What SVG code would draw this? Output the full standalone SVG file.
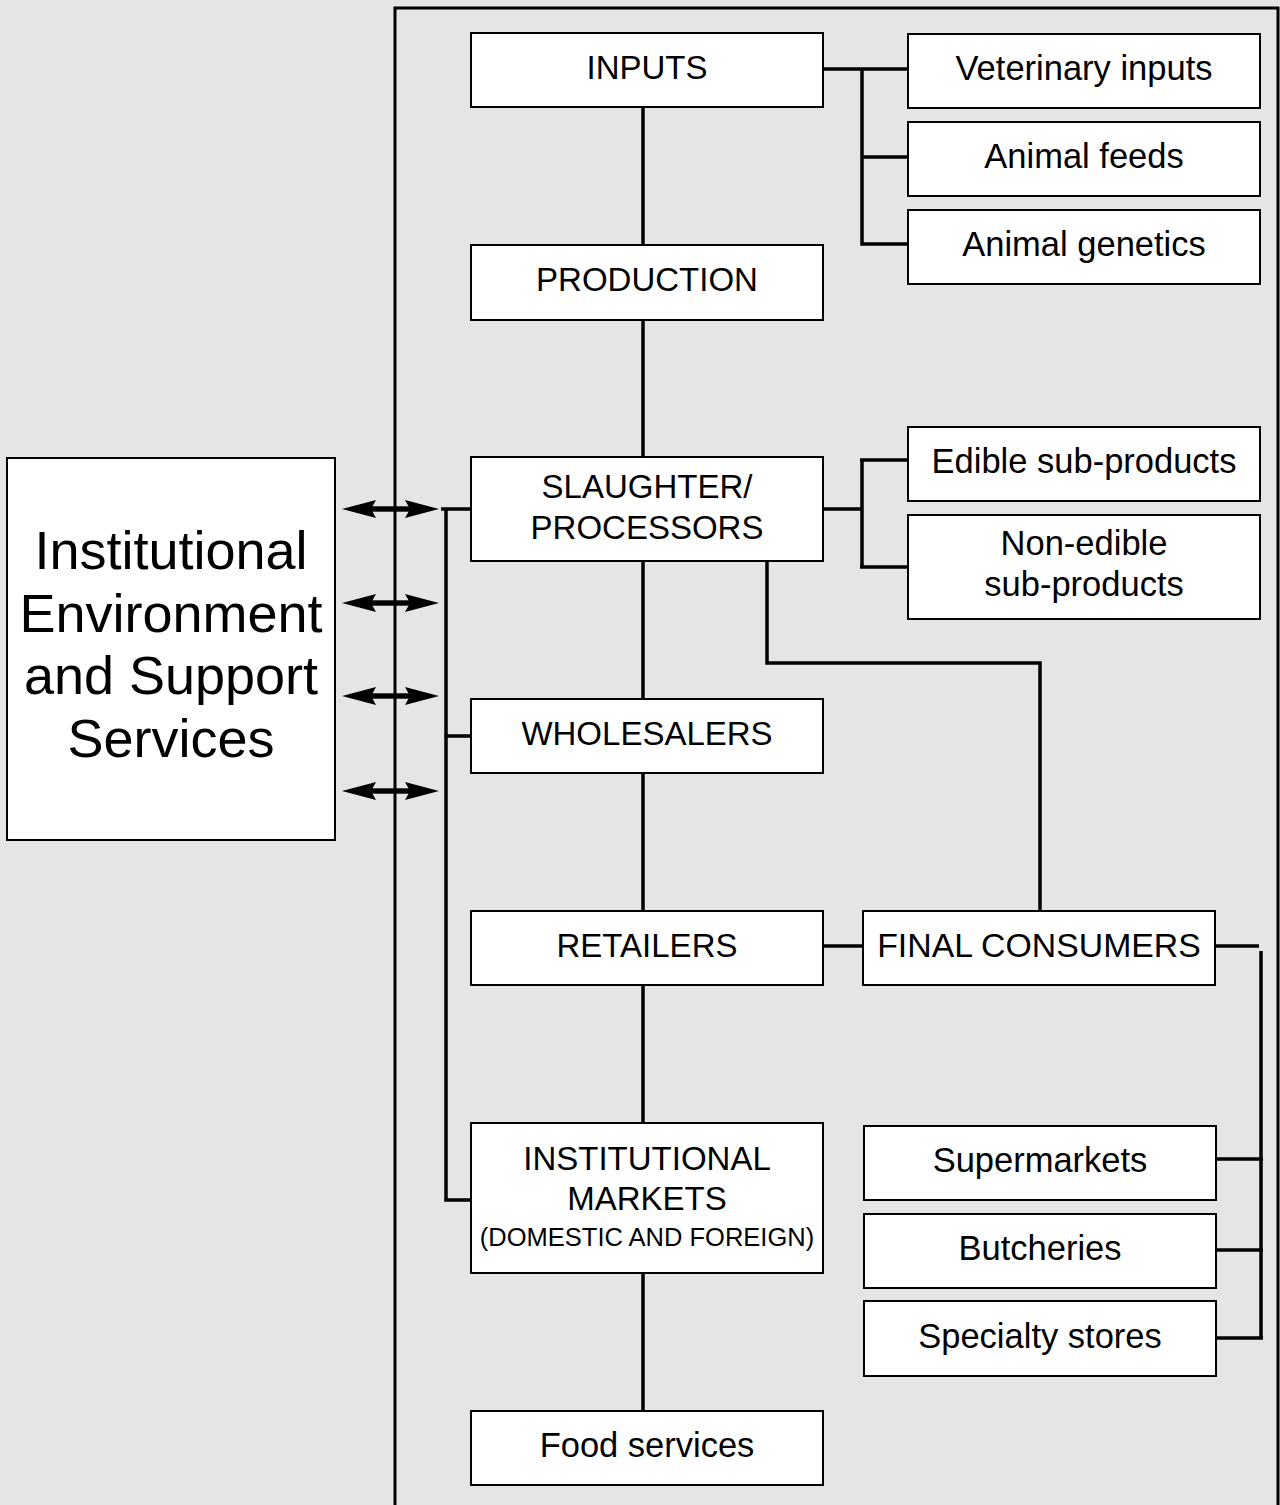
<svg xmlns="http://www.w3.org/2000/svg" width="1280" height="1505" viewBox="0 0 1280 1505">
<style>
.box{fill:#fff;stroke:#000;stroke-width:2}
.t{font-family:"Liberation Sans",Arial,sans-serif;font-size:33px;text-anchor:middle;fill:#000}
.l{font-size:34.5px}
.big{font-family:"Liberation Sans",Arial,sans-serif;font-size:54px;text-anchor:middle;fill:#000}
.sm{font-family:"Liberation Sans",Arial,sans-serif;font-size:25.5px;text-anchor:middle;fill:#000}
.c{fill:none;stroke:#000;stroke-width:3.5}
.ar{fill:#000}
</style>
<rect width="1280" height="1505" fill="#e5e5e5"/>
<rect x="395" y="8" width="883" height="1510" fill="none" stroke="#000" stroke-width="3"/>
<g id="connectors">
<path class="c" d="M643,107V245M643,320V457M643,561V699M643,773V911M643,985V1123M643,1273V1411"/>
<path class="c" d="M823,69H908M862,69V244H908M862,157H908"/>
<path class="c" d="M823,509H862M862,460V567M860,460H908M860,567H908"/>
<path class="c" d="M767,561V663H1040V911"/>
<path class="c" d="M823,946H863"/>
<path class="c" d="M1215,946H1259M1261,951V1338M1216,1159H1263M1216,1250H1263M1216,1338H1263"/>
<path class="c" d="M441,509H471M446,509V1200H471M446,736H471"/>
<g id="arrows">
<g transform="translate(0,509)"><rect x="360" y="-2.7" width="65" height="5.4"/><path class="ar" d="M342,0L376,-9L371,0L376,9Z"/><path class="ar" d="M439,0L405,-9L410,0L405,9Z"/></g>
<g transform="translate(0,603)"><rect x="360" y="-2.7" width="65" height="5.4"/><path class="ar" d="M342,0L376,-9L371,0L376,9Z"/><path class="ar" d="M439,0L405,-9L410,0L405,9Z"/></g>
<g transform="translate(0,696)"><rect x="360" y="-2.7" width="65" height="5.4"/><path class="ar" d="M342,0L376,-9L371,0L376,9Z"/><path class="ar" d="M439,0L405,-9L410,0L405,9Z"/></g>
<g transform="translate(0,791)"><rect x="360" y="-2.7" width="65" height="5.4"/><path class="ar" d="M342,0L376,-9L371,0L376,9Z"/><path class="ar" d="M439,0L405,-9L410,0L405,9Z"/></g>
</g>
</g>
<g id="institutional-env"><rect class="box" x="7" y="458" width="328" height="382"/>
<text class="big" x="171" y="569">Institutional</text><text class="big" x="171" y="632">Environment</text><text class="big" x="171" y="694">and Support</text><text class="big" x="171" y="757">Services</text></g>
<g id="inputs"><rect class="box" x="471" y="33" width="352" height="74"/><text class="t" x="647" y="79">INPUTS</text></g>
<g id="production"><rect class="box" x="471" y="245" width="352" height="75"/><text class="t" x="647" y="291">PRODUCTION</text></g>
<g id="slaughter"><rect class="box" x="471" y="457" width="352" height="104"/><text class="t" x="647" y="498">SLAUGHTER/</text><text class="t" x="647" y="539">PROCESSORS</text></g>
<g id="wholesalers"><rect class="box" x="471" y="699" width="352" height="74"/><text class="t" x="647" y="745">WHOLESALERS</text></g>
<g id="retailers"><rect class="box" x="471" y="911" width="352" height="74"/><text class="t" x="647" y="957">RETAILERS</text></g>
<g id="inst-markets"><rect class="box" x="471" y="1123" width="352" height="150"/><text class="t" x="647" y="1170">INSTITUTIONAL</text><text class="t" x="647" y="1210">MARKETS</text><text class="sm" x="647" y="1246">(DOMESTIC AND FOREIGN)</text></g>
<g id="food-services"><rect class="box" x="471" y="1411" width="352" height="74"/><text class="t l" x="647" y="1457">Food services</text></g>
<g id="veterinary"><rect class="box" x="908" y="34" width="352" height="74"/><text class="t l" x="1084" y="80">Veterinary inputs</text></g>
<g id="feeds"><rect class="box" x="908" y="122" width="352" height="74"/><text class="t l" x="1084" y="168">Animal feeds</text></g>
<g id="genetics"><rect class="box" x="908" y="210" width="352" height="74"/><text class="t l" x="1084" y="256">Animal genetics</text></g>
<g id="edible"><rect class="box" x="908" y="427" width="352" height="74"/><text class="t l" x="1084" y="473">Edible sub-products</text></g>
<g id="non-edible"><rect class="box" x="908" y="515" width="352" height="104"/><text class="t l" x="1084" y="555">Non-edible</text><text class="t l" x="1084" y="596">sub-products</text></g>
<g id="final-consumers"><rect class="box" x="863" y="911" width="352" height="74"/><text class="t" x="1039" y="957" style="font-size:33.8px">FINAL CONSUMERS</text></g>
<g id="supermarkets"><rect class="box" x="864" y="1126" width="352" height="74"/><text class="t l" x="1040" y="1172">Supermarkets</text></g>
<g id="butcheries"><rect class="box" x="864" y="1214" width="352" height="74"/><text class="t l" x="1040" y="1260">Butcheries</text></g>
<g id="specialty"><rect class="box" x="864" y="1301" width="352" height="75"/><text class="t l" x="1040" y="1348">Specialty stores</text></g>
</svg>
